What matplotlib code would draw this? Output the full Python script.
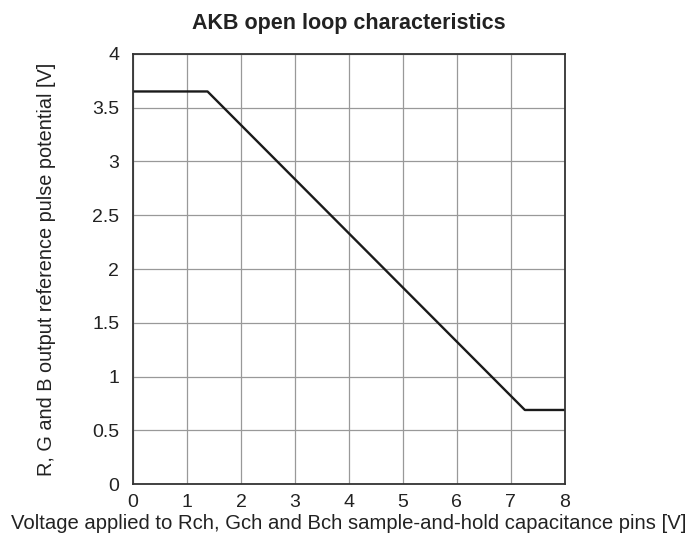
import matplotlib
matplotlib.use("Agg")
import matplotlib.pyplot as plt

# breakpoints of the open loop characteristic
x_pts = [0, 1.38, 7.26, 8]
y_pts = [3.65, 3.65, 0.69, 0.69]

x_ticks = [0, 1, 2, 3, 4, 5, 6, 7, 8]
y_ticks = [0, 0.5, 1, 1.5, 2, 2.5, 3, 3.5, 4]
y_labels = ["0", "0.5", "1", "1.5", "2", "2.5", "3", "3.5", "4"]

plt.rcParams["font.family"] = ["Liberation Sans", "DejaVu Sans"]

fig = plt.figure(figsize=(6.93, 5.49), dpi=100)
ax = fig.add_axes([0.192, 0.118, 0.623, 0.784])

ax.plot(x_pts, y_pts, color="#1a1a1a", linewidth=1.7)

ax.set_xlim(0, 8)
ax.set_ylim(0, 4)
ax.set_xticks(x_ticks)
ax.set_yticks(y_ticks)
ax.set_yticklabels(y_labels)
ax.tick_params(length=0, labelsize=14, colors="#222222")
ax.tick_params(axis="y", pad=10)
ax.tick_params(axis="x", pad=7)
ax.grid(True, color="#999999", linewidth=0.9)
for s in ax.spines.values():
    s.set_color("#333333")
    s.set_linewidth(1.3)

ax.set_title("AKB open loop characteristics", fontsize=15.5, fontweight="bold",
             color="#222222", pad=18)
ax.set_xlabel("Voltage applied to Rch, Gch and Bch sample-and-hold capacitance pins [V]",
              fontsize=14.6, color="#222222", labelpad=2)
ax.set_ylabel("R, G and B output reference pulse potential [V]",
              fontsize=14.3, color="#222222", labelpad=26)

fig.savefig("out.png", dpi=100)
